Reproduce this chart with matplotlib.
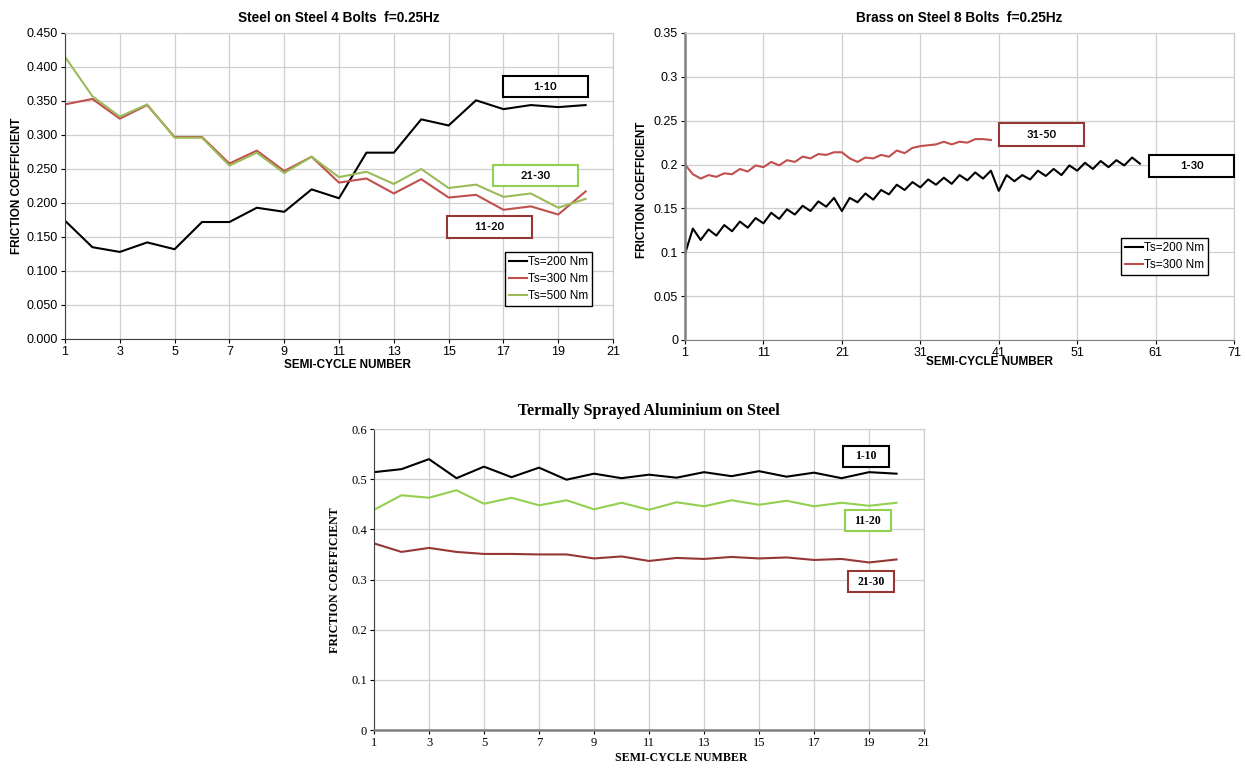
import matplotlib
matplotlib.use("Agg")
import matplotlib.pyplot as plt
from matplotlib.patches import Rectangle
from matplotlib.ticker import FuncFormatter, MultipleLocator

# steel on steel, 4 bolts
cyc_a = list(range(1, 21))
ss_200 = [0.174, 0.135, 0.128, 0.142, 0.132, 0.172, 0.172, 0.193, 0.187, 0.220,
          0.207, 0.274, 0.274, 0.323, 0.314, 0.351, 0.338, 0.344, 0.341, 0.344]
ss_300 = [0.345, 0.353, 0.324, 0.344, 0.297, 0.297, 0.258, 0.277, 0.247, 0.268,
          0.230, 0.236, 0.214, 0.235, 0.208, 0.212, 0.190, 0.195, 0.183, 0.217]
ss_500 = [0.415, 0.357, 0.327, 0.345, 0.296, 0.296, 0.255, 0.274, 0.244, 0.268,
          0.238, 0.246, 0.228, 0.250, 0.222, 0.227, 0.209, 0.214, 0.193, 0.206]

# brass on steel, 8 bolts
cyc_b200 = list(range(1, 60))
bs_200 = [0.098, 0.127, 0.114, 0.126, 0.119, 0.131, 0.124, 0.135, 0.128, 0.139,
          0.133, 0.145, 0.138, 0.149, 0.143, 0.153, 0.147, 0.158, 0.152, 0.162,
          0.147, 0.162, 0.157, 0.167, 0.160, 0.171, 0.166, 0.177, 0.171, 0.180,
          0.174, 0.183, 0.177, 0.185, 0.178, 0.188, 0.182, 0.191, 0.184, 0.193,
          0.170, 0.188, 0.181, 0.188, 0.183, 0.193, 0.187, 0.195, 0.188, 0.199,
          0.193, 0.202, 0.195, 0.204, 0.197, 0.205, 0.199, 0.208, 0.201]
cyc_b300 = list(range(1, 41))
bs_300 = [0.200, 0.189, 0.184, 0.188, 0.186, 0.190, 0.189, 0.195, 0.192, 0.199,
          0.197, 0.203, 0.199, 0.205, 0.203, 0.209, 0.207, 0.212, 0.211, 0.214,
          0.214, 0.207, 0.203, 0.208, 0.207, 0.211, 0.209, 0.216, 0.213, 0.219,
          0.221, 0.222, 0.223, 0.226, 0.223, 0.226, 0.225, 0.229, 0.229, 0.228]

# thermally sprayed aluminium on steel
cyc_c = list(range(1, 21))
al_1_10 = [0.514, 0.520, 0.540, 0.502, 0.525, 0.504, 0.523, 0.499, 0.511, 0.502,
           0.509, 0.503, 0.514, 0.506, 0.516, 0.505, 0.513, 0.502, 0.514, 0.511]
al_11_20 = [0.439, 0.468, 0.463, 0.478, 0.451, 0.463, 0.448, 0.458, 0.440, 0.453,
            0.439, 0.454, 0.446, 0.458, 0.449, 0.457, 0.446, 0.453, 0.447, 0.453]
al_21_30 = [0.372, 0.355, 0.363, 0.355, 0.351, 0.351, 0.350, 0.350, 0.342, 0.346,
            0.337, 0.343, 0.341, 0.345, 0.342, 0.344, 0.339, 0.341, 0.334, 0.340]

BLACK = "#000000"
RED = "#c0504d"
GREEN = "#9bbb59"
LGREEN = "#92d050"
DRED = "#953735"
GRID = "#cfcfcf"

SANS = ["Liberation Sans", "DejaVu Sans"]
SERIF = ["Liberation Serif", "DejaVu Serif"]
TAGF = ["Lato", "DejaVu Sans"]


def tag(ax, x, y, w, h, text, color, family, size):
    # framed range label, placed in axes fraction
    ax.add_patch(Rectangle((x - w / 2, y - h / 2), w, h, transform=ax.transAxes,
                           fill=True, facecolor="white", edgecolor=color, lw=1.5,
                           zorder=5, clip_on=False))
    ax.text(x, y, text, transform=ax.transAxes, ha="center", va="center",
            fontsize=size, fontweight="bold", family=family, zorder=6)


def style(ax, family, xlim, xstep, ylim, ystep, fmt, size):
    ax.set_xlim(*xlim)
    ax.set_ylim(*ylim)
    ax.xaxis.set_major_locator(MultipleLocator(xstep, offset=1))
    ax.yaxis.set_major_locator(MultipleLocator(ystep))
    ax.yaxis.set_major_formatter(FuncFormatter(fmt))
    ax.grid(True, color=GRID, lw=0.9)
    ax.set_axisbelow(True)
    ax.tick_params(direction="out", length=3, width=0.8, labelsize=size, pad=2)
    for lab in ax.get_xticklabels() + ax.get_yticklabels():
        lab.set_family(family)
    for s in ("top", "right"):
        ax.spines[s].set_color(GRID)
        ax.spines[s].set_linewidth(0.9)


def add_legend(ax, anchor):
    leg = ax.legend(loc="upper right", bbox_to_anchor=anchor, borderaxespad=0,
                    fancybox=False, edgecolor="black", framealpha=1,
                    prop={"family": SANS, "size": 8.5}, handlelength=1.5,
                    handletextpad=0.1, labelspacing=0.4, borderpad=0.35)
    leg.get_frame().set_linewidth(1.0)


def main():
    fig = plt.figure(figsize=(12.45, 7.69), dpi=100)

    # --- steel on steel
    ax1 = fig.add_axes([0.0522, 0.5592, 0.4402, 0.3979])
    ax1.plot(cyc_a, ss_200, color=BLACK, lw=1.5, label="Ts=200 Nm")
    ax1.plot(cyc_a, ss_300, color=RED, lw=1.5, label="Ts=300 Nm")
    ax1.plot(cyc_a, ss_500, color=GREEN, lw=1.5, label="Ts=500 Nm")
    style(ax1, SANS, (1, 21), 2, (0, 0.45), 0.05, lambda v, p: "%.3f" % v, 9)
    ax1.spines["left"].set_color("#404040")
    ax1.spines["bottom"].set_color("#404040")
    ax1.set_title("Steel on Steel 4 Bolts  f=0.25Hz", fontsize=9.8, fontweight="bold",
                  family=SANS, pad=8)
    ax1.set_xlabel("SEMI-CYCLE NUMBER", fontsize=8.5, fontweight="bold", family=SANS)
    ax1.set_ylabel("FRICTION COEFFICIENT", fontsize=8.5, fontweight="bold", family=SANS)
    ax1.xaxis.set_label_coords(0.515, -0.066)
    ax1.yaxis.set_label_coords(-0.077, 0.5)
    add_legend(ax1, (0.962, 0.284))
    tag(ax1, 0.877, 0.825, 0.155, 0.069, "1-10", BLACK, TAGF, 8)
    tag(ax1, 0.859, 0.534, 0.155, 0.069, "21-30", LGREEN, TAGF, 8)
    tag(ax1, 0.775, 0.366, 0.155, 0.069, "11-20", DRED, TAGF, 8)

    # --- brass on steel
    ax2 = fig.add_axes([0.5502, 0.5579, 0.441, 0.3992])
    ax2.plot(cyc_b200, bs_200, color=BLACK, lw=1.5, label="Ts=200 Nm")
    ax2.plot(cyc_b300, bs_300, color=RED, lw=1.5, label="Ts=300 Nm")
    style(ax2, SANS, (1, 71), 10, (0, 0.35), 0.05, lambda v, p: "%g" % round(v, 2), 9)
    ax2.spines["left"].set_color("#808080")
    ax2.spines["left"].set_linewidth(1.8)
    ax2.spines["bottom"].set_color("#808080")
    ax2.set_title("Brass on Steel 8 Bolts  f=0.25Hz", fontsize=9.8, fontweight="bold",
                  family=SANS, pad=8)
    ax2.set_xlabel("SEMI-CYCLE NUMBER", fontsize=8.5, fontweight="bold", family=SANS)
    ax2.set_ylabel("FRICTION COEFFICIENT", fontsize=8.5, fontweight="bold", family=SANS)
    ax2.xaxis.set_label_coords(0.554, -0.052)
    ax2.yaxis.set_label_coords(-0.068, 0.489)
    add_legend(ax2, (0.953, 0.332))
    tag(ax2, 0.649, 0.669, 0.155, 0.075, "31-50", DRED, TAGF, 8)
    tag(ax2, 0.923, 0.567, 0.155, 0.072, "1-30", BLACK, TAGF, 8)

    # --- thermally sprayed aluminium
    ax3 = fig.add_axes([0.3004, 0.0507, 0.4418, 0.3914])
    ax3.plot(cyc_c, al_1_10, color=BLACK, lw=1.5)
    ax3.plot(cyc_c, al_11_20, color=LGREEN, lw=1.5)
    ax3.plot(cyc_c, al_21_30, color=DRED, lw=1.5)
    style(ax3, SERIF, (1, 21), 2, (0, 0.6), 0.1, lambda v, p: "%g" % round(v, 2), 9)
    ax3.spines["left"].set_color("#404040")
    ax3.spines["bottom"].set_color("#808080")
    ax3.spines["bottom"].set_linewidth(1.8)
    ax3.set_title("Termally Sprayed Aluminium on Steel", fontsize=11.5, fontweight="bold",
                  family=SERIF, pad=10)
    ax3.set_xlabel("SEMI-CYCLE NUMBER", fontsize=8.6, fontweight="bold", family=SERIF)
    ax3.set_ylabel("FRICTION COEFFICIENT", fontsize=8.6, fontweight="bold", family=SERIF)
    ax3.xaxis.set_label_coords(0.558, -0.072)
    ax3.yaxis.set_label_coords(-0.06, 0.498)
    tag(ax3, 0.894, 0.910, 0.084, 0.070, "1-10", BLACK, SERIF, 8.5)
    tag(ax3, 0.898, 0.695, 0.084, 0.070, "11-20", LGREEN, SERIF, 8.5)
    tag(ax3, 0.904, 0.492, 0.084, 0.070, "21-30", DRED, SERIF, 8.5)

    fig.savefig("out.png", dpi=100)


if __name__ == '__main__':
    main()
